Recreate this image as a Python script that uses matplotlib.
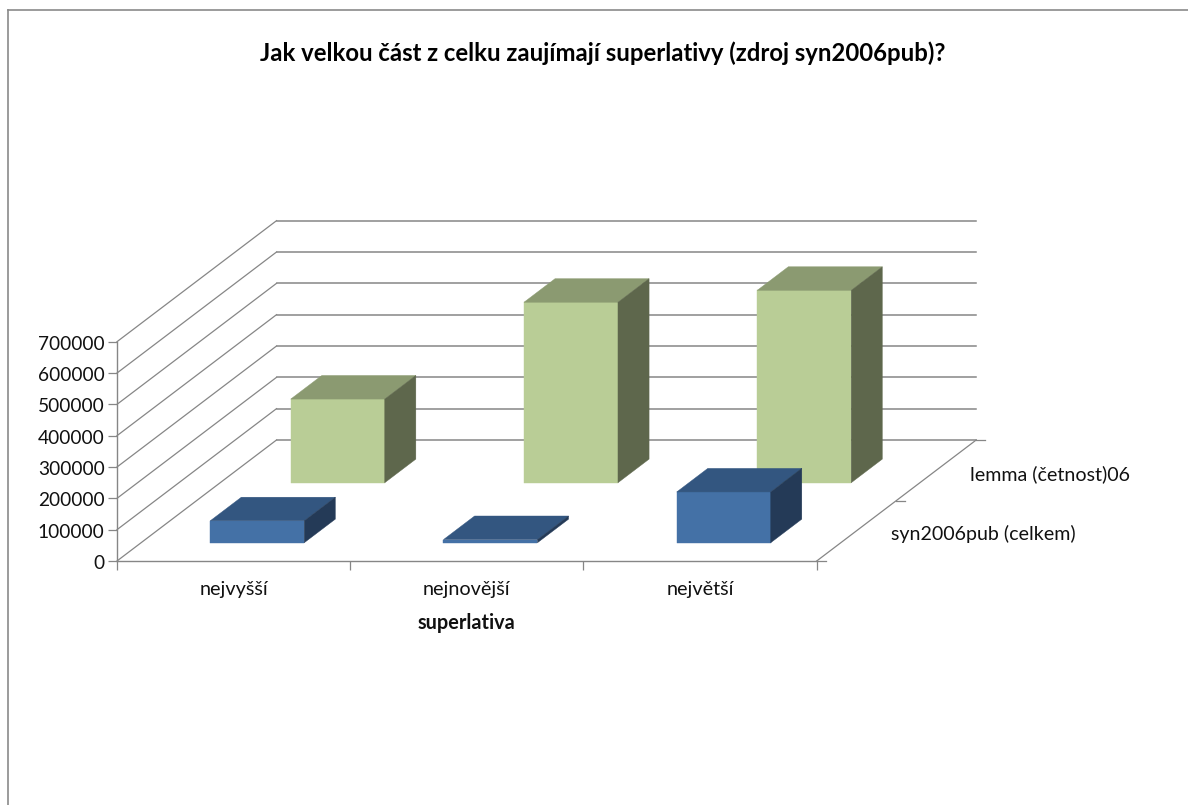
import matplotlib
matplotlib.use("Agg")
import matplotlib.pyplot as plt
from matplotlib.lines import Line2D
from matplotlib.patches import Polygon
from matplotlib.transforms import ScaledTranslation

plt.rcParams['font.family'] = ['Lato', 'DejaVu Sans']

# Data
categories = ["nejvyšší", "nejnovější", "největší"]
series_names = ["syn2006pub (celkem)", "lemma (četnost)06"]
syn2006pub = [70000, 10000, 162000]
lemma = [267000, 576000, 614000]
value_ticks = [0, 100000, 200000, 300000, 400000, 500000, 600000, 700000]
title_text = "Jak velkou část z celku zaujímají superlativy (zdroj syn2006pub)?"
category_axis_label = "superlativa"

# Figure and plot-plane geometry
W, H = 1188, 805
GRID = "#868686"
TEXT = "#111111"
fig = plt.figure(figsize=(W / 100, H / 100), dpi=100, facecolor="white")
ax = fig.add_axes([117 / W, (H - 561) / H, 699.7 / W, 219.3 / H], facecolor="none")
ax.set_xlim(0, len(categories))
ax.set_ylim(0, max(value_ticks))

PX_PER_CAT = 699.7 / len(categories)
PX_PER_VALUE = 219.3 / max(value_ticks)

# Oblique depth: one full unit of depth shifts a point by this much in data units
DEPTH_X = 159.5 / PX_PER_CAT
DEPTH_Y = 121.0 / PX_PER_VALUE


def project(cat, depth, value):
    return cat + depth * DEPTH_X, value + depth * DEPTH_Y


def segment(p, q, lw=1.0, z=1):
    ax.add_line(Line2D(*zip(p, q), color=GRID, lw=lw, zorder=z, clip_on=False))


# Walls, floor edge and their gridlines
for v in value_ticks:
    segment(project(0, 0, v), project(0, 1, v), lw=0.9)
    segment(project(0, 1, v), project(len(categories), 1, v), lw=1.1)
segment(project(len(categories), 0, 0), project(len(categories), 1, 0), lw=0.9)

# Small outward ticks on the depth axis
tick_x = 9 / PX_PER_CAT
for d in (0, 0.5, 1):
    x, y = project(len(categories), d, 0)
    segment((x, y), (x + tick_x, y), lw=0.9)

# 3-D columns
BAR_WIDTH = 0.403
BAR_DEPTH = 0.195
SERIES_FRONT = [0.151, 0.647]
SERIES_SHIFT = [-0.002, 0.004]
FACE_COLOURS = [
    ("#4471A6", "#335680", "#243A57"),
    ("#B9CD96", "#8B9A71", "#5E674C"),
]


def column(i, series, value, z):
    x0 = i + 0.5 - BAR_WIDTH / 2 + SERIES_SHIFT[series]
    x1 = x0 + BAR_WIDTH
    front = SERIES_FRONT[series]
    back = front + BAR_DEPTH
    front_col, top_col, side_col = FACE_COLOURS[series]
    faces = [
        ([project(x0, front, 0), project(x1, front, 0),
          project(x1, front, value), project(x0, front, value)], front_col),
        ([project(x0, front, value), project(x1, front, value),
          project(x1, back, value), project(x0, back, value)], top_col),
        ([project(x1, front, 0), project(x1, back, 0),
          project(x1, back, value), project(x1, front, value)], side_col),
    ]
    for pts, colour in faces:
        ax.add_patch(Polygon(pts, closed=True, facecolor=colour, edgecolor=colour,
                             lw=0.3, zorder=z, clip_on=False))


for i, v in enumerate(lemma):
    column(i, 1, v, 3)
for i, v in enumerate(syn2006pub):
    column(i, 0, v, 4)

# Axes: spines, ticks and labels
for side in ("top", "right"):
    ax.spines[side].set_visible(False)
for side in ("left", "bottom"):
    ax.spines[side].set_color(GRID)
    ax.spines[side].set_linewidth(1.0)

ax.set_yticks(value_ticks)
ax.set_yticklabels([str(v) for v in value_ticks])
ax.tick_params(axis="y", length=6.5, width=0.9, color=GRID, labelcolor=TEXT,
               labelsize=13.8, pad=2.5)
# Nudge the value labels one pixel down so they sit centred on their ticks
nudge = ScaledTranslation(0, -1 / 100, fig.dpi_scale_trans)
for lab in ax.get_yticklabels():
    lab.set_transform(lab.get_transform() + nudge)

ax.set_xticks(range(len(categories) + 1))
ax.set_xticklabels([])
ax.tick_params(axis="x", which="major", length=6.5, width=0.9, color=GRID)
ax.set_xticks([i + 0.5 for i in range(len(categories))], minor=True)
ax.set_xticklabels(categories, minor=True)
ax.tick_params(axis="x", which="minor", length=0, pad=14.5, labelsize=14.3, labelcolor=TEXT)
ax.set_xlabel(category_axis_label, fontsize=14.3, fontweight="bold", color=TEXT, labelpad=10.8)

# Series names beside the depth axis
label_dx = 34 / PX_PER_CAT
label_dy = -3.5 / PX_PER_VALUE
for d, name in zip((0.25, 0.75), series_names):
    x, y = project(len(categories), d, 0)
    ax.text(x + label_dx, y + label_dy, name,
            fontsize=14.1, color=TEXT, va="center", ha="left", clip_on=False)

# Title and outer chart border
fig.text(603 / W, 1 - 53 / H, title_text, fontsize=17.2, fontweight="bold",
         color="#000000", ha="center", va="center")
fig.add_artist(Line2D([7.5 / W, 7.5 / W], [0, 1 - 10 / H], color="#8A8A8A", lw=1.2))
fig.add_artist(Line2D([7.5 / W, 1], [1 - 10 / H, 1 - 10 / H], color="#8A8A8A", lw=1.2))

fig.savefig("out.png", dpi=100, facecolor="white")
